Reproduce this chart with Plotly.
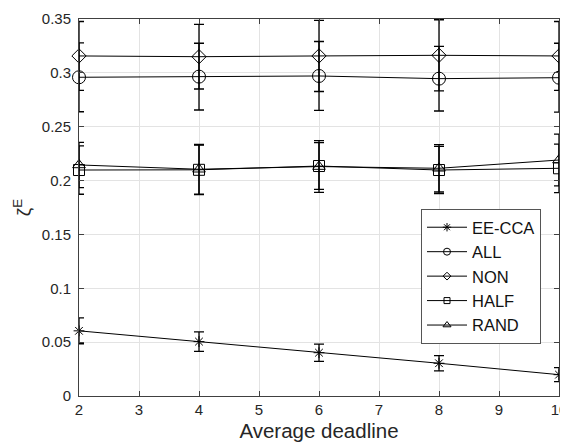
import plotly.graph_objects as go

x_vals = [2, 4, 6, 8, 10]

ee_cca = [0.0605, 0.0505, 0.0402, 0.0304, 0.0198]
ee_cca_err = [0.012, 0.009, 0.008, 0.007, 0.0065]

all_vals = [0.2959, 0.2965, 0.2971, 0.2946, 0.2955]
all_err = [0.032, 0.031, 0.032, 0.030, 0.032]

non_vals = [0.3157, 0.3150, 0.3157, 0.3163, 0.3157]
non_err = [0.032, 0.030, 0.033, 0.033, 0.032]

half_vals = [0.2098, 0.2100, 0.2135, 0.2098, 0.2114]
half_err = [0.0225, 0.023, 0.0217, 0.022, 0.0225]

rand_vals = [0.2145, 0.2105, 0.2130, 0.2114, 0.2191]
rand_err = [0.021, 0.023, 0.024, 0.022, 0.024]

names = ["EE-CCA", "ALL", "NON", "HALF", "RAND"]
series = [ee_cca, all_vals, non_vals, half_vals, rand_vals]
errors = [ee_cca_err, all_err, non_err, half_err, rand_err]
symbols = ["asterisk-open", "circle-open", "diamond-open", "square-open", "triangle-up-open"]
sizes = [9, 13, 11, 11, 11]
legend_sizes = [7, 7, 6, 6, 7]

y_ticks = [0, 0.05, 0.1, 0.15, 0.2, 0.25, 0.3, 0.35]
y_ticktext = ["0", "0.05", "0.1", "0.15", "0.2", "0.25", "0.3", "0.35"]
x_ticks = [2, 3, 4, 5, 6, 7, 8, 9, 10]

fig = go.Figure()
for name, ys, es, sym, sz in zip(names, series, errors, symbols, sizes):
    fig.add_trace(go.Scatter(
        x=x_vals, y=ys, mode="lines+markers", name=name, showlegend=False,
        line=dict(color="black", width=1),
        marker=dict(symbol=sym, size=sz, color="black", line=dict(color="black", width=1)),
        error_y=dict(type="data", array=es, visible=True, color="black", thickness=1.3, width=5),
        cliponaxis=False,
    ))

for name, sym, sz in zip(names, symbols, legend_sizes):
    fig.add_trace(go.Scatter(
        x=[None], y=[None], mode="lines+markers", name=name, showlegend=True,
        line=dict(color="black", width=1),
        marker=dict(symbol=sym, size=sz, color="black", line=dict(color="black", width=1)),
    ))

font_family = "Liberation Sans, Arial, Helvetica, sans-serif"
axis_color = "#404040"
grid_color = "#e3e3e3"

# page body has an 8px margin, so the figure is 8px smaller and margins shifted
fig.update_layout(
    width=560, height=440,
    margin=dict(l=71, r=9, t=11, b=52, autoexpand=False),
    paper_bgcolor="white", plot_bgcolor="white",
    font=dict(family=font_family, color="#262626", size=15),
    showlegend=True,
    legend=dict(
        x=0.7125, y=0.496, xanchor="left", yanchor="top",
        bgcolor="white", bordercolor="#555555", borderwidth=1,
        font=dict(size=16.5, color="#111111"),
        itemwidth=40,
    ),
)

fig.update_xaxes(
    range=[2, 10], tickvals=x_ticks, ticktext=[str(v) for v in x_ticks],
    showgrid=True, gridcolor=grid_color, gridwidth=1,
    showline=True, linecolor=axis_color, linewidth=1, mirror="ticks",
    ticks="inside", ticklen=5, tickcolor=axis_color,
    zeroline=False,
    tickfont=dict(size=15, color="#262626"),
    title=dict(text="Average deadline", font=dict(size=20.5, color="#262626"), standoff=6),
)
fig.update_yaxes(
    range=[0, 0.35], tickvals=y_ticks, ticktext=y_ticktext,
    showgrid=True, gridcolor=grid_color, gridwidth=1,
    showline=True, linecolor=axis_color, linewidth=1, mirror="ticks",
    ticks="inside", ticklen=5, tickcolor=axis_color,
    zeroline=False,
    tickfont=dict(size=15, color="#262626"),
    ticklabelstandoff=4,
    title=dict(text="ζ<sup>E</sup>", font=dict(size=19, color="#262626"), standoff=6),
)

fig.write_html("out.html")
